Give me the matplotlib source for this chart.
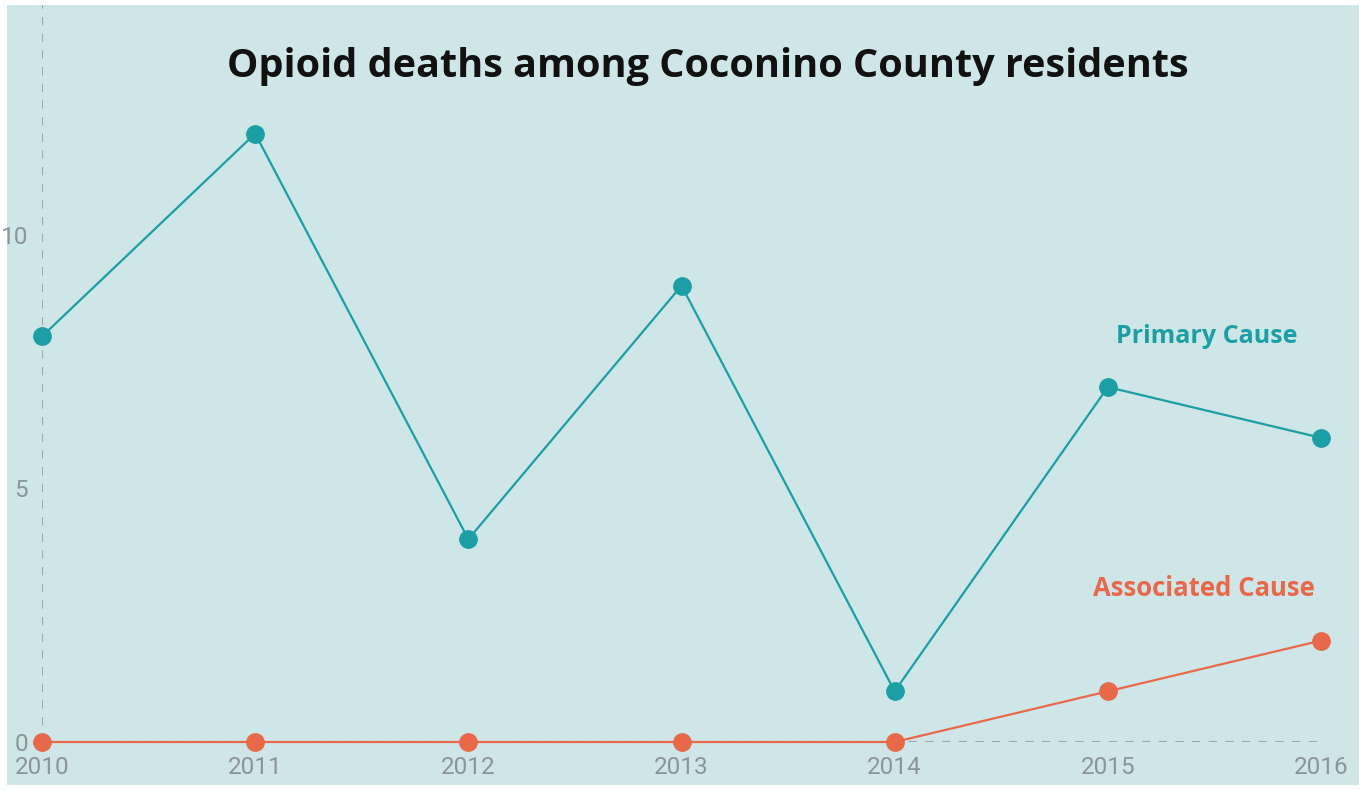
import numpy as np
import matplotlib
matplotlib.use('Agg')
import matplotlib.pyplot as plt
from matplotlib.patches import Rectangle

# Datos
anios = [2010, 2011, 2012, 2013, 2014, 2015, 2016]
primaria = [8, 12, 4, 9, 1, 7, 6]
asociada = [0, 0, 0, 0, 0, 1, 2]
yticks = [0, 5, 10]

fondo = '#cfe6e8'
verde = '#1c9fa4'
naranja = '#e8694a'
gris = '#8a9599'

W, H = 1363, 790
fig = plt.figure(figsize=(W/100, H/100), dpi=100)
fig.patch.set_facecolor('white')
# fondo coloreado con un borde blanco fino
fig.patches.append(Rectangle((7/W, 5/H), (1359-7)/W, (785-5)/H, transform=fig.transFigure,
                             facecolor=fondo, edgecolor='none', zorder=-10))

# ejes: 2010 en px 42, 2016 en px 1321, y=0 en px 742
ax = fig.add_axes([42/W, (H-742)/H, (1321-42)/W, (742-5)/H])
ax.set_zorder(5)
ax.set_facecolor('none')
ax.set_xlim(2010, 2016)
ax.set_ylim(0, (742-5)/50.7)

for s in ax.spines.values():
    s.set_visible(False)
ax.axvline(2010, color='#9ea7aa', lw=1.5, ls=(0, (4, 4)), zorder=1)
ax.axhline(0, color='#9ea7aa', lw=1.5, ls=(0, (4, 4)), zorder=1)

ax.plot(anios, primaria, color=verde, lw=1.6, marker='o', ms=12.5, clip_on=False, zorder=3)
ax.plot(anios, asociada, color=naranja, lw=1.6, marker='o', ms=12.5, clip_on=False, zorder=4)

ax.set_xticks(anios)
ax.set_xticklabels([str(a) for a in anios])
ax.set_yticks(yticks)
ax.tick_params(length=0, labelsize=17.5, labelcolor=gris)
ax.tick_params(axis='x', pad=10)
ax.tick_params(axis='y', pad=10)
for lab in ax.get_xticklabels() + ax.get_yticklabels():
    lab.set_family('Roboto')

fig.text(708/W, 1 - 66/H, 'Opioid deaths among Coconino County residents', ha='center', va='center',
         fontsize=28.5, fontweight='bold', family='Open Sans', color='#111111')
ax.text(2015.465, 8.0, 'Primary Cause', ha='center', va='center', fontsize=18,
        fontweight='bold', family='Open Sans', color=verde)
ax.text(2015.45, 3.02, 'Associated Cause', ha='center', va='center', fontsize=18.5,
        fontweight='bold', family='Open Sans', color=naranja)

plt.savefig('out.png', dpi=100, facecolor=fig.get_facecolor())
